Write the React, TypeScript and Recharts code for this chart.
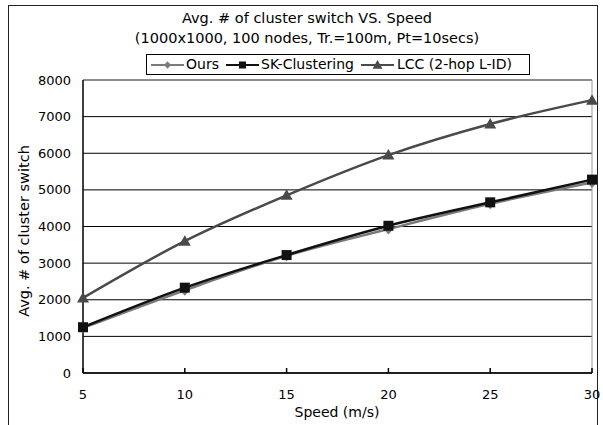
import React from 'react';
import { LineChart, Line, XAxis, YAxis, CartesianGrid, ReferenceLine } from 'recharts';

const speeds = [5, 10, 15, 20, 25, 30];
const ours = [1230, 2260, 3200, 3930, 4620, 5200];
const skClustering = [1250, 2330, 3220, 4020, 4660, 5280];
const lcc = [2050, 3600, 4850, 5950, 6800, 7450];
const yTicks = [0, 1000, 2000, 3000, 4000, 5000, 6000, 7000, 8000];
const xTicks = [5, 10, 15, 20, 25, 30];

const titleLine1 = 'Avg. # of cluster switch VS. Speed';
const titleLine2 = '(1000x1000, 100 nodes, Tr.=100m, Pt=10secs)';
const yLabel = 'Avg. # of cluster switch';
const xLabel = 'Speed (m/s)';

const data = speeds.map((s, i) => ({ speed: s, ours: ours[i], sk: skClustering[i], lcc: lcc[i] }));

const FONT = '"DejaVu Sans", Verdana, sans-serif';

const C_OURS = '#7a7a7a';
const C_SK = '#111111';
const C_LCC = '#4a4a4a';

const Diamond = ({ cx, cy, fill, r = 5 }: any) => (
  <path d={`M${cx},${cy - r * 1.1} L${cx + r},${cy} L${cx},${cy + r * 1.1} L${cx - r},${cy} Z`} fill={fill} />
);
const Square = ({ cx, cy, fill, r = 5 }: any) => (
  <rect x={cx - r} y={cy - r} width={2 * r} height={2 * r} fill={fill} />
);
const Triangle = ({ cx, cy, fill, r = 6 }: any) => (
  <path d={`M${cx},${cy - r} L${cx + r},${cy + r * 0.75} L${cx - r},${cy + r * 0.75} Z`} fill={fill} />
);

const legendItems = [
  { name: 'Ours', color: C_OURS, shape: 'diamond', lineX: 4, textX: 39 },
  { name: 'SK-Clustering', color: C_SK, shape: 'square', lineX: 79, textX: 114 },
  { name: 'LCC (2-hop L-ID)', color: C_LCC, shape: 'triangle', lineX: 214, textX: 250 },
];

const LegendBox = () => (
  <div
    style={{
      position: 'absolute',
      left: 146,
      top: 54,
      width: 384,
      height: 21,
      boxSizing: 'border-box',
      border: '1px solid #000',
      background: '#fff',
      fontFamily: FONT,
      fontSize: 14,
      color: '#000',
      whiteSpace: 'nowrap',
    }}
  >
    {legendItems.map((it) => (
      <React.Fragment key={it.name}>
        <svg width={33} height={14} style={{ position: 'absolute', left: it.lineX, top: 3 }}>
          <line x1={0} y1={7} x2={33} y2={7} stroke={it.color} strokeWidth={2} />
          {it.shape === 'diamond' && <Diamond cx={16.5} cy={7} r={3.5} fill={it.color} />}
          {it.shape === 'square' && <Square cx={16.5} cy={7} r={3.5} fill={it.color} />}
          {it.shape === 'triangle' && <Triangle cx={16.5} cy={7} r={5} fill={it.color} />}
        </svg>
        <span style={{ position: 'absolute', left: it.textX, top: 0, lineHeight: '19px' }}>{it.name}</span>
      </React.Fragment>
    ))}
  </div>
);

export default function App() {
  return (
    <div style={{ position: 'absolute', left: 0, top: 0, width: 603, height: 425, overflow: 'hidden', background: '#fff' }}>
      <div
        style={{
          position: 'absolute',
          left: 8,
          top: 5,
          width: 588,
          height: 440,
          border: '1.5px solid #222',
        }}
      />
      <div style={{ position: 'absolute', left: 0, top: 0 }}>
        <LineChart width={603} height={425} data={data} margin={{ top: 80, right: 11, bottom: 22, left: 0 }}>
          <CartesianGrid horizontal vertical={false} stroke="#000" strokeWidth={1} />
          <XAxis
            dataKey="speed"
            type="number"
            domain={[5, 30]}
            ticks={xTicks}
            height={30}
            stroke="#000"
            strokeWidth={1.5}
            tickSize={-5}
            tickMargin={22}
            tick={{ fill: '#000', fontSize: 13, fontFamily: FONT }}
            label={() => (
              <text x={337} y={413} textAnchor="middle" dominantBaseline="middle" fill="#000" fontSize={14} fontFamily={FONT}>
                {xLabel}
              </text>
            )}
          />
          <YAxis
            type="number"
            domain={[0, 8000]}
            ticks={yTicks}
            width={83}
            stroke="#000"
            strokeWidth={1.5}
            tickLine={false}
            tickMargin={6}
            tick={{ fill: '#000', fontSize: 13, fontFamily: FONT }}
            label={() => (
              <text
                x={25}
                y={231}
                transform="rotate(-90 25 231)"
                textAnchor="middle"
                dominantBaseline="middle"
                fill="#000"
                fontSize={14.5}
                fontFamily={FONT}
              >
                {yLabel}
              </text>
            )}
          />
          <ReferenceLine x={30} stroke="#999" strokeWidth={1} />
          <ReferenceLine y={8000} stroke="#999" strokeWidth={1} />
          <Line
            type="monotone"
            dataKey="lcc"
            name="LCC (2-hop L-ID)"
            stroke={C_LCC}
            strokeWidth={2.5}
            dot={(p: any) => <Triangle key={`t${p.index}`} cx={p.cx} cy={p.cy} fill={C_LCC} />}
            isAnimationActive={false}
          />
          <Line
            type="monotone"
            dataKey="ours"
            name="Ours"
            stroke={C_OURS}
            strokeWidth={2.5}
            dot={(p: any) => <Diamond key={`d${p.index}`} cx={p.cx} cy={p.cy} fill={C_OURS} />}
            isAnimationActive={false}
          />
          <Line
            type="monotone"
            dataKey="sk"
            name="SK-Clustering"
            stroke={C_SK}
            strokeWidth={2.5}
            dot={(p: any) => <Square key={`s${p.index}`} cx={p.cx} cy={p.cy} fill={C_SK} />}
            isAnimationActive={false}
          />
        </LineChart>
      </div>
      <div
        style={{
          position: 'absolute',
          left: 0,
          top: 7,
          width: 614,
          textAlign: 'center',
          fontFamily: FONT,
          fontSize: 14.5,
          color: '#000',
          lineHeight: '22px',
        }}
      >
        {titleLine1}
      </div>
      <div
        style={{
          position: 'absolute',
          left: 0,
          top: 27,
          width: 614,
          textAlign: 'center',
          fontFamily: FONT,
          fontSize: 14.5,
          color: '#000',
          lineHeight: '22px',
        }}
      >
        {titleLine2}
      </div>
      <LegendBox />
    </div>
  );
}
